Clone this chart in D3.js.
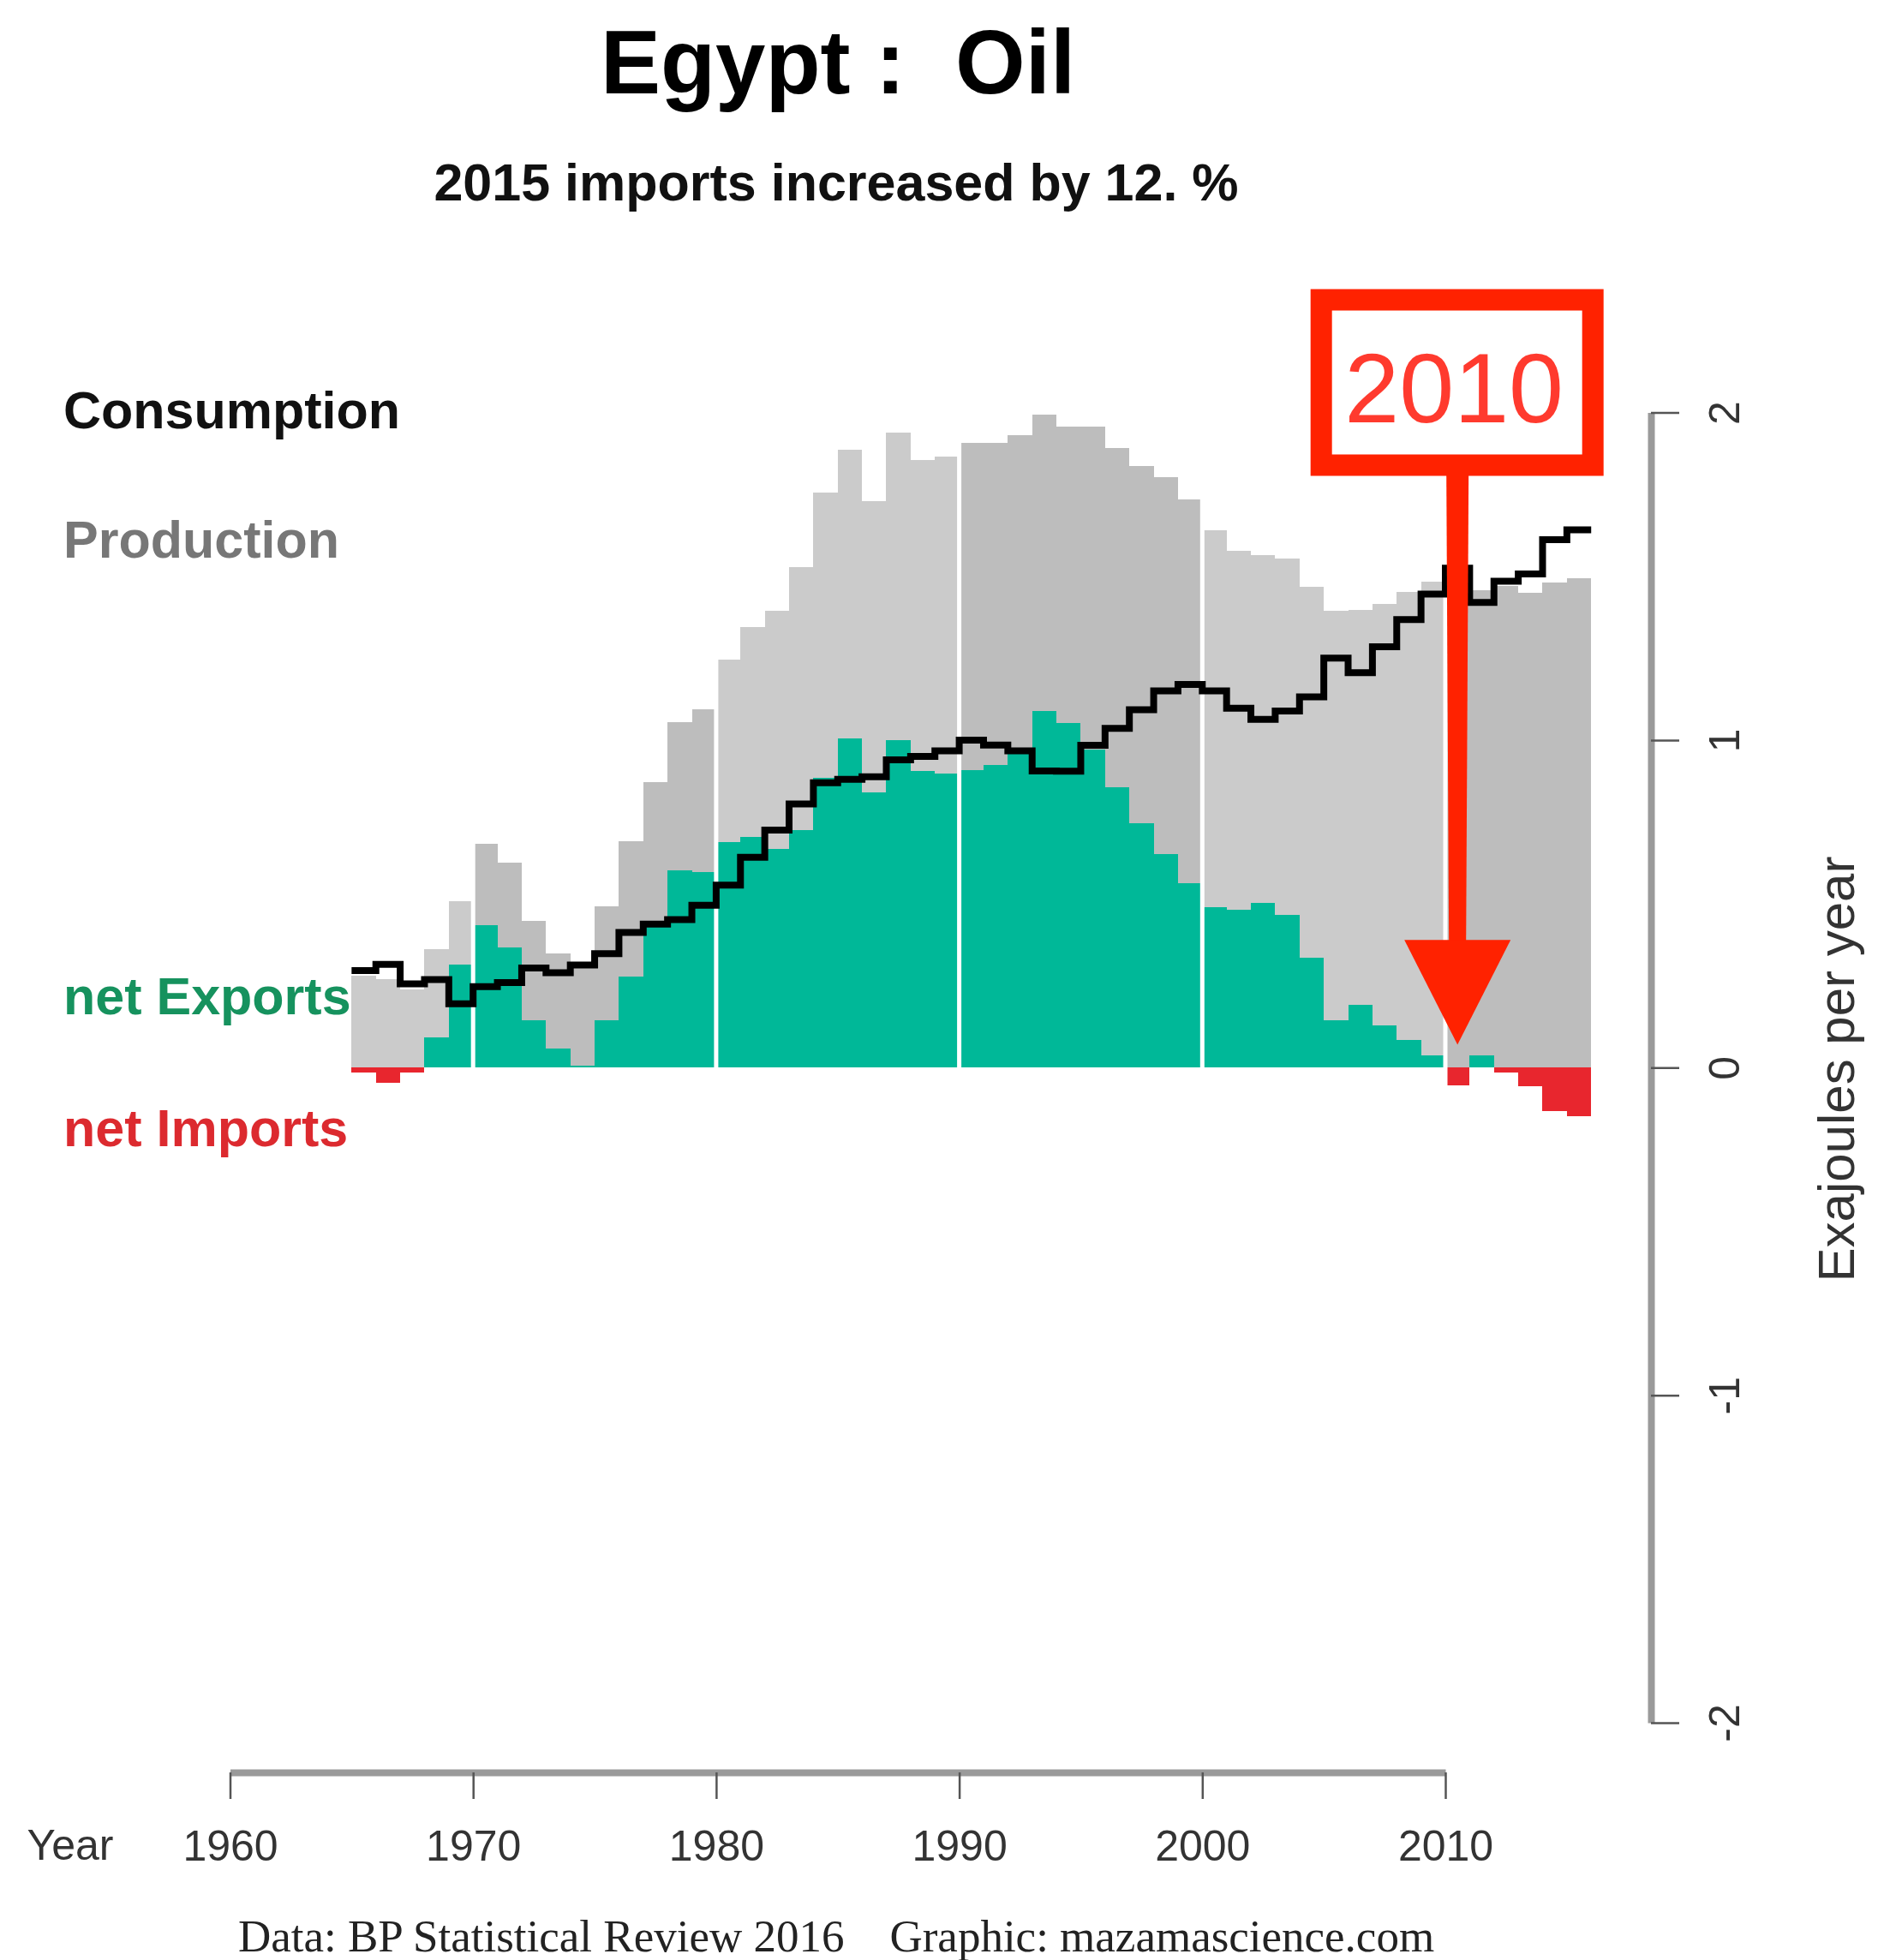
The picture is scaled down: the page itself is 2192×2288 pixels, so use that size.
<!DOCTYPE html>
<html lang="en">
<head>
    <meta charset="UTF-8">
    <title>Egypt : Oil</title>
    <script src="https://cdn.jsdelivr.net/npm/d3@7"></script>
    <style>
        html, body {
            margin: 0;
            background: #fff;
        }

        text {
            font-family: "Liberation Sans", Arial, sans-serif;
            white-space: pre;
        }

        text.footer {
            font-family: "Liberation Serif", "Times New Roman", serif;
        }
    </style>
</head>
<body>
<div class="chart"></div>

<script>

    // values, exajoules per year
    var years = d3.range(1965, 2016);

    var production = [
        0.280, 0.270, 0.240, 0.361, 0.509,
        0.683, 0.627, 0.448, 0.348, 0.318, 0.492, 0.692, 0.872, 1.055, 1.094,
        1.246, 1.346, 1.394, 1.529, 1.755, 1.886, 1.729, 1.939, 1.856, 1.865,
        1.908, 1.908, 1.930, 1.995, 1.956, 1.956, 1.891, 1.838, 1.803, 1.734,
        1.640, 1.578, 1.566, 1.555, 1.468, 1.394, 1.397, 1.415, 1.452, 1.484,
        1.472, 1.458, 1.470, 1.449, 1.480, 1.493
    ];

    var consumption = [
        0.296, 0.315, 0.256, 0.269, 0.195,
        0.247, 0.260, 0.304, 0.290, 0.313, 0.348, 0.413, 0.438, 0.452, 0.496,
        0.557, 0.642, 0.725, 0.805, 0.870, 0.880, 0.888, 0.940, 0.950, 0.967,
        1.000, 0.985, 0.967, 0.906, 0.905, 0.984, 1.036, 1.093, 1.150, 1.170,
        1.150, 1.097, 1.063, 1.089, 1.132, 1.250, 1.206, 1.285, 1.368, 1.446,
        1.525, 1.420, 1.485, 1.507, 1.612, 1.642
    ];

    var xTicks = [1960, 1970, 1980, 1990, 2000, 2010];
    var yTicks = [-2, -1, 0, 1, 2];
    var decades = [1970, 1980, 1990, 2000, 2010];
    var highlightYear = 2010;

    var data = years.map(function (yr, i) {
        return {
            year: yr,
            prod: production[i],
            cons: consumption[i],
            net: production[i] - consumption[i]
        };
    });

    var width = 2192, height = 2288;

    var x = d3.scaleLinear().domain([1960, 2010]).range([268.5, 1687]);
    var y = d3.scaleLinear().domain([-2, 2]).range([2011, 481.6]);

    var svg = d3.select('.chart').append('svg')
        .attr('width', width)
        .attr('height', height);

    // production bars, alternating grey by decade
    svg.append('g').selectAll('rect')
        .data(data)
        .enter().append('rect')
        .attr('shape-rendering', 'crispEdges')
        .attr('x', function (d) { return x(d.year); })
        .attr('width', function (d) { return x(d.year + 1) - x(d.year); })
        .attr('y', function (d) { return y(d.prod); })
        .attr('height', function (d) { return y(0) - y(d.prod); })
        .attr('fill', function (d) {
            return Math.floor(d.year / 10) % 2 === 0 ? '#cbcbcb' : '#bdbdbd';
        });

    // net exports
    svg.append('g').selectAll('rect')
        .data(data.filter(function (d) { return d.net > 0; }))
        .enter().append('rect')
        .attr('shape-rendering', 'crispEdges')
        .attr('x', function (d) { return x(d.year); })
        .attr('width', function (d) { return x(d.year + 1) - x(d.year); })
        .attr('y', function (d) { return y(d.net); })
        .attr('height', function (d) { return y(0) - y(d.net); })
        .attr('fill', '#00b898');

    // net imports
    svg.append('g').selectAll('rect')
        .data(data.filter(function (d) { return d.net < 0; }))
        .enter().append('rect')
        .attr('shape-rendering', 'crispEdges')
        .attr('x', function (d) { return x(d.year); })
        .attr('width', function (d) { return x(d.year + 1) - x(d.year); })
        .attr('y', y(0))
        .attr('height', function (d) { return y(d.net) - y(0); })
        .attr('fill', '#e8262e');

    // white decade separators
    svg.append('g').selectAll('line')
        .data(decades)
        .enter().append('line')
        .attr('x1', function (d) { return x(d); })
        .attr('x2', function (d) { return x(d); })
        .attr('y1', y(2.2))
        .attr('y2', y(-0.3))
        .attr('stroke', '#fff')
        .attr('stroke-width', 5);

    // consumption step line
    var steps = data.map(function (d) { return [d.year, d.cons]; });
    steps.push([years[years.length - 1] + 1, consumption[consumption.length - 1]]);

    var line = d3.line()
        .x(function (d) { return x(d[0]); })
        .y(function (d) { return y(d[1]); })
        .curve(d3.curveStepAfter);

    svg.append('path')
        .attr('d', line(steps))
        .attr('fill', 'none')
        .attr('stroke', '#000')
        .attr('stroke-width', 8)
        .attr('stroke-linejoin', 'miter');

    // 2010 marker
    var cx = x(highlightYear + 0.5);
    var mark = svg.append('g');
    mark.append('polygon')
        .attr('points', [
            [cx - 13, 550], [cx + 13, 550], [cx + 10, 1100], [cx - 10, 1100]
        ].join(' '))
        .attr('fill', '#ff2200');
    mark.append('polygon')
        .attr('points', [
            [cx - 62, y(0.39)], [cx + 62, y(0.39)], [cx, y(0.07)]
        ].join(' '))
        .attr('fill', '#ff2200');
    mark.append('rect')
        .attr('x', cx - 159)
        .attr('y', 350)
        .attr('width', 317)
        .attr('height', 193)
        .attr('fill', '#fff')
        .attr('stroke', '#ff2200')
        .attr('stroke-width', 25);
    mark.append('text')
        .attr('x', cx - 4)
        .attr('y', 493)
        .attr('text-anchor', 'middle')
        .attr('font-size', 115)
        .attr('fill', '#ff3a2e')
        .text(String(highlightYear));

    // axes
    var xAxis = d3.axisBottom(x)
        .tickValues(xTicks)
        .tickFormat(function (d) { return String(d); })
        .tickSize(31)
        .tickSizeOuter(0)
        .tickPadding(36);

    var gx = svg.append('g')
        .attr('transform', 'translate(0,2069)')
        .call(xAxis);

    var yAxis = d3.axisRight(y)
        .tickValues(yTicks)
        .tickFormat(function (d) { return String(d); })
        .tickSize(33)
        .tickSizeOuter(0);

    var gy = svg.append('g')
        .attr('transform', 'translate(1927,0)')
        .call(yAxis);

    gy.selectAll('.tick text')
        .attr('x', null)
        .attr('dy', null)
        .attr('text-anchor', 'middle')
        .attr('transform', 'translate(103,0) rotate(-90)');

    [gx, gy].forEach(function (g) {
        g.select('.domain').attr('stroke', '#9a9a9a').attr('stroke-width', 8);
        g.selectAll('.tick line').attr('stroke', '#555').attr('stroke-width', 2.5);
        g.selectAll('.tick text')
            .attr('font-size', 50)
            .attr('fill', '#333');
    });

    svg.append('text')
        .attr('x', 82)
        .attr('y', 2171)
        .attr('text-anchor', 'middle')
        .attr('font-size', 50)
        .attr('fill', '#333')
        .text('Year');

    svg.append('text')
        .attr('transform', 'translate(2164,1248) rotate(-90)')
        .attr('text-anchor', 'middle')
        .attr('font-size', 60)
        .attr('fill', '#333')
        .text('Exajoules per year');

    // titles
    svg.append('text')
        .attr('x', 978)
        .attr('y', 109)
        .attr('text-anchor', 'middle')
        .attr('font-size', 105)
        .attr('font-weight', 'bold')
        .attr('fill', '#000')
        .text('Egypt :  Oil');

    svg.append('text')
        .attr('x', 976)
        .attr('y', 234)
        .attr('text-anchor', 'middle')
        .attr('font-size', 61)
        .attr('font-weight', 'bold')
        .attr('fill', '#111')
        .text('2015 imports increased by 12. %');

    // legend labels
    var labels = [
        {text: 'Consumption', y: 500, color: '#111'},
        {text: 'Production', y: 651, color: '#777'},
        {text: 'net Exports', y: 1184, color: '#16925e'},
        {text: 'net Imports', y: 1338, color: '#dc2a2f'}
    ];

    svg.append('g').selectAll('text')
        .data(labels)
        .enter().append('text')
        .attr('x', 74)
        .attr('y', function (d) { return d.y; })
        .attr('font-size', 61)
        .attr('font-weight', 'bold')
        .attr('fill', function (d) { return d.color; })
        .text(function (d) { return d.text; });

    // footer
    svg.append('text')
        .attr('class', 'footer')
        .attr('x', 976)
        .attr('y', 2278)
        .attr('text-anchor', 'middle')
        .attr('font-size', 53)
        .attr('fill', '#222')
        .text('Data: BP Statistical Review 2016    Graphic: mazamascience.com');

</script>
</body>
</html>
